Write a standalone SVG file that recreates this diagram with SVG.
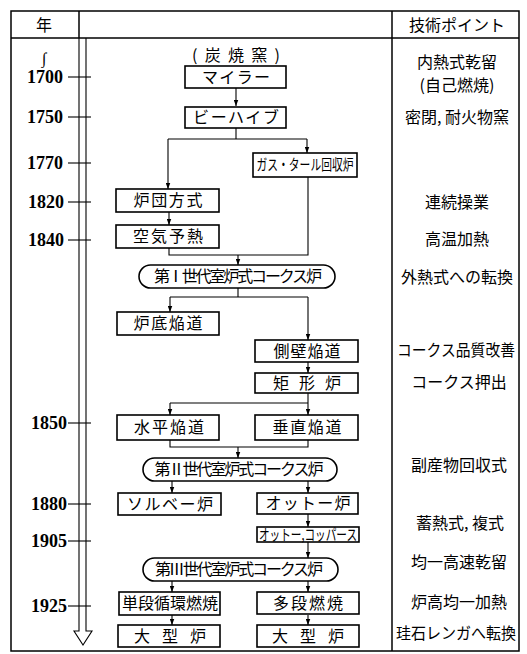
<svg xmlns="http://www.w3.org/2000/svg" width="527" height="654" viewBox="0 0 527 654">
<style>
.frame{fill:none;stroke:#000;stroke-width:1.5}
.box{fill:#fff;stroke:#000;stroke-width:1.6}
.ln{fill:none;stroke:#000;stroke-width:1.1}
.t{font-family:"Noto Sans CJK JP","Noto Sans",sans-serif;font-size:16px;fill:#000;text-anchor:middle}
.t.s{font-size:15px}
.yr{font-family:"Liberation Serif",serif;font-size:18px;font-weight:bold;fill:#000;text-anchor:end}
.pt{font-family:"Noto Sans CJK JP","Noto Sans",sans-serif;font-size:16px;fill:#000;text-anchor:middle}
</style>
<defs>
<marker id="ah" viewBox="0 0 8 6" refX="8" refY="3" markerWidth="6" markerHeight="5" markerUnits="userSpaceOnUse" orient="auto">
<path d="M0,0 L8,3 L0,6 z" fill="#000"/>
</marker>
</defs>
<rect width="527" height="654" fill="#fff"/>

<g id="table">
<rect class="frame" x="11" y="11" width="508" height="640"/>
<line class="frame" x1="11" y1="38" x2="519" y2="38"/>
<line class="frame" x1="79" y1="11" x2="79" y2="38"/>
<line class="frame" x1="392" y1="11" x2="392" y2="651"/>
<text class="t" x="44" y="31">年</text>
<text class="pt" x="457" y="31">技術ポイント</text>
</g>

<g id="timeline">
<path class="ln" d="M79 38 V631 H74 L83 645 L92 631 H86 V38" fill="none"/>
<g class="ln">
<line x1="68" y1="77" x2="91" y2="77"/>
<line x1="68" y1="117" x2="91" y2="117"/>
<line x1="68" y1="163" x2="91" y2="163"/>
<line x1="68" y1="202" x2="91" y2="202"/>
<line x1="68" y1="240" x2="91" y2="240"/>
<line x1="68" y1="423" x2="91" y2="423"/>
<line x1="68" y1="504" x2="91" y2="504"/>
<line x1="68" y1="541" x2="91" y2="541"/>
<line x1="68" y1="606" x2="91" y2="606"/>
</g>
<text x="44" y="64" font-family="Liberation Serif,serif" font-size="16" text-anchor="middle">∫</text>
<text class="yr" x="63" y="83">1700</text>
<text class="yr" x="63" y="123">1750</text>
<text class="yr" x="63" y="169">1770</text>
<text class="yr" x="64" y="208">1820</text>
<text class="yr" x="64" y="246">1840</text>
<text class="yr" x="67" y="429">1850</text>
<text class="yr" x="67" y="510">1880</text>
<text class="yr" x="67" y="547">1905</text>
<text class="yr" x="67" y="612">1925</text>
</g>

<g id="connectors" class="ln">
<path d="M236 88 V106" marker-end="url(#ah)"/>
<path d="M236 128 V139 M168 139 H307"/>
<path d="M168 139 V189" marker-end="url(#ah)"/>
<path d="M307 139 V153" marker-end="url(#ah)"/>
<path d="M169 212 V225" marker-end="url(#ah)"/>
<path d="M169 248 V255 H308 V177"/>
<path d="M238 255 V265" marker-end="url(#ah)"/>
<path d="M238 288 V297 M170 297 H308"/>
<path d="M170 297 V312" marker-end="url(#ah)"/>
<path d="M308 297 V340" marker-end="url(#ah)"/>
<path d="M308 362 V373" marker-end="url(#ah)"/>
<path d="M308 393 V415" marker-end="url(#ah)"/>
<path d="M170 403 H308"/>
<path d="M170 403 V415" marker-end="url(#ah)"/>
<path d="M170 440 V447 H308 V440"/>
<path d="M238 447 V458" marker-end="url(#ah)"/>
<path d="M172 481 V493" marker-end="url(#ah)"/>
<path d="M308 481 V493" marker-end="url(#ah)"/>
<path d="M308 514 V527" marker-end="url(#ah)"/>
<path d="M308 542 V558" marker-end="url(#ah)"/>
<path d="M172 581 V592" marker-end="url(#ah)"/>
<path d="M308 581 V592" marker-end="url(#ah)"/>
<path d="M172 615 V625" marker-end="url(#ah)"/>
<path d="M308 615 V625" marker-end="url(#ah)"/>
</g>

<g id="n-sumiyaki"><text class="t" x="236" y="61" textLength="88" lengthAdjust="spacing">(炭焼窯)</text></g>
<g id="n-mairer"><rect class="box" x="185" y="66" width="101" height="22"/><text class="t" x="236" y="83" textLength="68" lengthAdjust="spacing">マイラー</text></g>
<g id="n-beehive"><rect class="box" x="185" y="107" width="101" height="21"/><text class="t" x="236" y="123" textLength="86" lengthAdjust="spacing">ビーハイブ</text></g>
<g id="n-gastar"><rect class="box" x="253" y="153" width="104" height="24"/><text class="t s" x="305" y="170" textLength="97" lengthAdjust="spacingAndGlyphs">ガス・タール回収炉</text></g>
<g id="n-rodan"><rect class="box" x="116" y="189" width="103" height="23"/><text class="t" x="168" y="206" textLength="69" lengthAdjust="spacing">炉団方式</text></g>
<g id="n-kuki"><rect class="box" x="116" y="225" width="103" height="23"/><text class="t" x="168" y="242" textLength="70" lengthAdjust="spacing">空気予熱</text></g>
<g id="n-gen1"><rect class="box" x="139" y="265" width="196" height="23" rx="11.5"/><text class="t" x="238" y="282" textLength="168" lengthAdjust="spacing">第Ⅰ世代室炉式コークス炉</text></g>
<g id="n-rotei"><rect class="box" x="117" y="312" width="102" height="23"/><text class="t" x="168" y="329" textLength="69" lengthAdjust="spacing">炉底焔道</text></g>
<g id="n-sokuheki"><rect class="box" x="255" y="340" width="103" height="22"/><text class="t" x="307" y="357" textLength="67" lengthAdjust="spacing">側壁焔道</text></g>
<g id="n-kukei"><rect class="box" x="255" y="373" width="103" height="20"/><text class="t" x="307" y="389" textLength="68" lengthAdjust="spacing">矩形炉</text></g>
<g id="n-suihei"><rect class="box" x="117" y="415" width="102" height="25"/><text class="t" x="169" y="433" textLength="70" lengthAdjust="spacing">水平焔道</text></g>
<g id="n-suichoku"><rect class="box" x="255" y="415" width="103" height="25"/><text class="t" x="307" y="433" textLength="69" lengthAdjust="spacing">垂直焔道</text></g>
<g id="n-gen2"><rect class="box" x="143" y="458" width="194" height="23" rx="11.5"/><text class="t" x="239" y="475" textLength="169" lengthAdjust="spacing">第Ⅱ世代室炉式コークス炉</text></g>
<g id="n-solvay"><rect class="box" x="118" y="493" width="103" height="22"/><text class="t" x="170" y="510" textLength="86" lengthAdjust="spacing">ソルベー炉</text></g>
<g id="n-otto"><rect class="box" x="257" y="493" width="101" height="21"/><text class="t" x="308" y="509" textLength="85" lengthAdjust="spacing">オットー炉</text></g>
<g id="n-ottokoppers"><rect class="box" x="257" y="527" width="102" height="15"/><text class="t s" x="308" y="540" textLength="98" lengthAdjust="spacingAndGlyphs">オットー,コッパース</text></g>
<g id="n-gen3"><rect class="box" x="143" y="558" width="195" height="23" rx="11.5"/><text class="t" x="239" y="575" textLength="168" lengthAdjust="spacing">第Ⅲ世代室炉式コークス炉</text></g>
<g id="n-tandan"><rect class="box" x="119" y="592" width="101" height="23"/><text class="t" x="170" y="609" textLength="96" lengthAdjust="spacing">単段循環燃焼</text></g>
<g id="n-tadan"><rect class="box" x="257" y="592" width="102" height="22"/><text class="t" x="308" y="609" textLength="70" lengthAdjust="spacing">多段燃焼</text></g>
<g id="n-ogata1"><rect class="box" x="118" y="625" width="102" height="22"/><text class="t" x="170" y="642" textLength="72" lengthAdjust="spacing">大型炉</text></g>
<g id="n-ogata2"><rect class="box" x="257" y="625" width="102" height="22"/><text class="t" x="308" y="642" textLength="72" lengthAdjust="spacing">大型炉</text></g>

<g id="points">
<text class="pt" x="457" y="68" font-size="15">内熱式乾留</text>
<text class="pt" x="457" y="91" font-size="15">(自己燃焼)</text>
<text class="pt" x="457" y="123">密閉, 耐火物窯</text>
<text class="pt" x="457" y="208">連続操業</text>
<text class="pt" x="457" y="245">高温加熱</text>
<text class="pt" x="457" y="283">外熱式への転換</text>
<text class="pt" x="456" y="356" textLength="118" lengthAdjust="spacingAndGlyphs">コークス品質改善</text>
<text class="pt" x="459" y="388">コークス押出</text>
<text class="pt" x="459" y="471">副産物回収式</text>
<text class="pt" x="460" y="529">蓄熱式, 複式</text>
<text class="pt" x="459" y="568">均一高速乾留</text>
<text class="pt" x="459" y="608">炉高均一加熱</text>
<text class="pt" x="456" y="639" textLength="120" lengthAdjust="spacingAndGlyphs">珪石レンガへ転換</text>
</g>
</svg>
